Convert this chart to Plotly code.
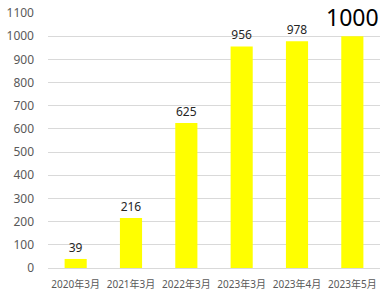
import plotly.graph_objects as go

categories = ["2020年3月", "2021年3月", "2022年3月", "2023年3月", "2023年4月", "2023年5月"]
values = [39, 216, 625, 956, 978, 1000]
label_sizes = [12, 12, 12, 12, 12, 23]
label_colors = ["#262626", "#262626", "#262626", "#262626", "#262626", "#000000"]
y_ticks = list(range(0, 1101, 100))

font = "Noto Sans, Noto Sans CJK JP, sans-serif"

fig = go.Figure(go.Bar(
    x=categories, y=values,
    marker=dict(color="#FFFF00", line=dict(width=0)),
    text=[str(v) for v in values],
    textposition="outside",
    constraintext="none",
    textfont=dict(size=label_sizes, color=label_colors, family=font),
    cliponaxis=False,
))

fig.update_layout(
    width=391, height=300,
    margin=dict(l=48, r=11, t=13, b=32, autoexpand=False),
    paper_bgcolor="white", plot_bgcolor="white",
    bargap=0.6,
    showlegend=False,
    font=dict(family=font, color="#595959"),
    xaxis=dict(showgrid=False, showline=True, linecolor="#d9d9d9", linewidth=1,
               tickfont=dict(size=10, color="#595959"), ticks="", ticklabelstandoff=7,
               automargin=False),
    yaxis=dict(range=[0, 1100], tickvals=y_ticks, showgrid=True, gridcolor="#d9d9d9",
               gridwidth=1, zeroline=False, showline=False,
               tickfont=dict(size=12, color="#595959"), ticks="", ticklen=0,
               ticklabelstandoff=13, automargin=False),
)

fig.write_html("out.html")
